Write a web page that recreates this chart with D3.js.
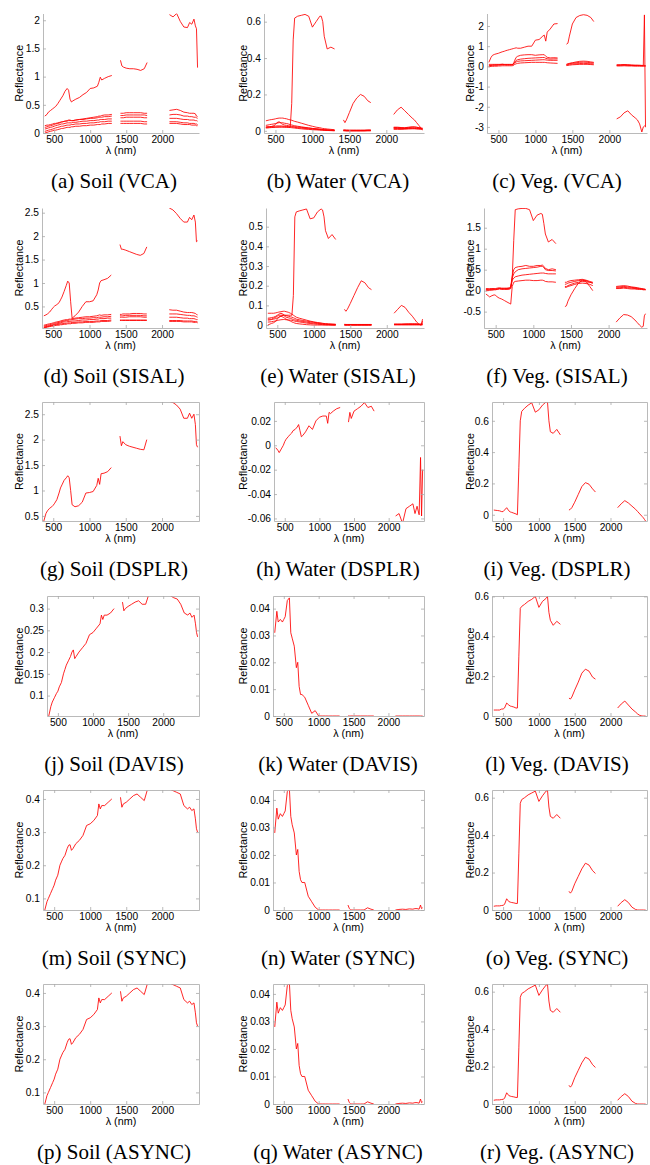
<!DOCTYPE html>
<html>
<head>
<meta charset="utf-8">
<script src="https://cdn.jsdelivr.net/npm/d3@7"></script>
<style>
body { margin: 0; background: #fff; }
svg text { font-family: "Liberation Sans", Arial, sans-serif; fill: #000; }
.cap { font-family: "Liberation Serif", "Times New Roman", serif; font-size: 21px; }
</style>
</head>
<body>
<div id="chart"></div>
<script>
var width = 650, height = 1165;

// wavelength grid (nm) for the three bands left after removing water absorption
var WL1 = [370,400,420,450,480,500,520,550,580,600,620,650,680,700,720,740,760,800,850,900,950,1000,1050,1100,1120,1140,1160,1200,1250,1300];
var WL2 = [1420,1440,1460,1500,1550,1600,1650,1700,1750,1790];
var WL3 = [2100,2150,2200,2250,2300,2350,2380,2410,2440,2460,2475,2490];
var xTicks = [500,1000,1500,2000];

var panelNames = ['Soil','Water','Veg.'];
var methods = ['VCA','SISAL','DSPLR','DAVIS','SYNC','ASYNC'];

// each curve = [band1 values, band2 values, band3 values]
var soilVCA = [
  [[0.3,0.33,0.37,0.4,0.43,0.45,0.47,0.52,0.58,0.62,0.66,0.74,0.79,0.76,0.6,0.55,0.57,0.6,0.63,0.68,0.72,0.79,0.8,0.83,0.9,0.99,0.94,0.97,1.0,1.02],
   [1.29,1.19,1.17,1.15,1.14,1.14,1.13,1.11,1.14,1.25],
   [2.1,2.06,2.12,1.98,1.88,1.87,1.96,1.93,2.02,1.9,1.85,1.16]],
  [[0.13,0.14,0.14,0.15,0.16,0.17,0.17,0.18,0.19,0.2,0.2,0.21,0.21,0.22,0.22,0.22,0.22,0.23,0.24,0.25,0.26,0.27,0.28,0.29,0.3,0.3,0.31,0.32,0.32,0.33],
   [0.35,0.35,0.35,0.36,0.36,0.36,0.36,0.36,0.35,0.35],
   [0.4,0.41,0.42,0.4,0.37,0.36,0.35,0.35,0.35,0.34,0.3,0.29]],
  [[0.1,0.11,0.12,0.13,0.14,0.15,0.16,0.17,0.18,0.19,0.2,0.21,0.22,0.23,0.23,0.22,0.22,0.23,0.24,0.24,0.25,0.26,0.26,0.27,0.28,0.28,0.28,0.29,0.29,0.3],
   [0.31,0.31,0.31,0.32,0.32,0.32,0.32,0.32,0.32,0.31],
   [0.32,0.33,0.33,0.32,0.3,0.3,0.29,0.29,0.28,0.28,0.27,0.26]],
  [[0.07,0.08,0.09,0.1,0.11,0.12,0.13,0.14,0.15,0.16,0.16,0.17,0.18,0.18,0.18,0.18,0.19,0.19,0.2,0.21,0.21,0.22,0.22,0.23,0.23,0.24,0.24,0.24,0.25,0.25],
   [0.27,0.27,0.27,0.28,0.28,0.28,0.28,0.28,0.27,0.27],
   [0.26,0.26,0.26,0.25,0.24,0.24,0.23,0.23,0.23,0.22,0.22,0.21]],
  [[0.03,0.04,0.05,0.06,0.07,0.08,0.09,0.1,0.11,0.12,0.12,0.13,0.14,0.14,0.14,0.15,0.15,0.16,0.16,0.17,0.17,0.18,0.18,0.19,0.19,0.2,0.2,0.2,0.21,0.21],
   [0.21,0.21,0.21,0.21,0.21,0.21,0.21,0.21,0.2,0.2],
   [0.2,0.2,0.2,0.19,0.18,0.18,0.17,0.17,0.17,0.16,0.16,0.15]],
  [[0.0,0.01,0.02,0.03,0.04,0.05,0.05,0.06,0.07,0.08,0.08,0.09,0.1,0.1,0.1,0.11,0.11,0.12,0.12,0.13,0.13,0.14,0.14,0.15,0.15,0.15,0.16,0.16,0.17,0.17],
   [0.17,0.17,0.17,0.17,0.17,0.17,0.17,0.17,0.16,0.16],
   [0.17,0.17,0.17,0.16,0.15,0.15,0.15,0.14,0.14,0.14,0.13,0.13]]
];

var waterVCA = [
  [[0.02,0.02,0.02,0.02,0.02,0.02,0.02,0.02,0.02,0.02,0.02,0.02,0.02,0.02,0.15,0.5,0.62,0.63,0.635,0.64,0.63,0.57,0.6,0.63,0.63,0.6,0.52,0.45,0.46,0.45],
   [0.06,0.045,0.06,0.1,0.15,0.18,0.2,0.19,0.165,0.155],
   [0.09,0.115,0.13,0.11,0.09,0.07,0.06,0.045,0.03,0.02,0.01,0.005]],
  [[0.055,0.058,0.06,0.062,0.064,0.066,0.068,0.07,0.07,0.07,0.068,0.066,0.062,0.06,0.058,0.055,0.052,0.048,0.042,0.036,0.03,0.025,0.02,0.017,0.015,0.013,0.012,0.01,0.008,0.006],
   [0.006,0.005,0.005,0.004,0.004,0.004,0.004,0.004,0.005,0.005],
   [0.015,0.014,0.013,0.013,0.014,0.015,0.015,0.014,0.013,0.012,0.012,0.01]],
  [[0.03,0.032,0.034,0.036,0.038,0.04,0.042,0.045,0.045,0.044,0.042,0.04,0.037,0.034,0.032,0.03,0.028,0.025,0.022,0.019,0.016,0.013,0.011,0.009,0.008,0.007,0.006,0.005,0.004,0.003],
   [0.003,0.003,0.002,0.002,0.002,0.002,0.002,0.002,0.003,0.003],
   [0.02,0.02,0.018,0.017,0.02,0.022,0.022,0.02,0.018,0.016,0.015,0.015]],
  [[0.02,0.021,0.022,0.024,0.028,0.035,0.045,0.05,0.04,0.035,0.032,0.03,0.028,0.026,0.025,0.024,0.023,0.021,0.019,0.017,0.015,0.013,0.011,0.009,0.008,0.007,0.006,0.005,0.003,0.002],
   [0.002,0.002,0.001,0.001,0.001,0.001,0.001,0.001,0.002,0.002],
   [0.012,0.012,0.011,0.012,0.013,0.014,0.013,0.012,0.012,0.011,0.01,0.01]],
  [[0.02,0.022,0.023,0.024,0.025,0.026,0.027,0.027,0.027,0.026,0.025,0.024,0.023,0.022,0.021,0.02,0.019,0.017,0.015,0.013,0.011,0.009,0.008,0.006,0.005,0.004,0.004,0.003,0.002,0.001],
   [0.001,0.001,0.0,0.0,0.0,0.0,0.0,0.0,0.001,0.001],
   [0.008,0.008,0.008,0.009,0.01,0.011,0.011,0.01,0.009,0.009,0.008,0.008]],
  [[0.015,0.016,0.017,0.018,0.019,0.02,0.021,0.022,0.022,0.022,0.021,0.02,0.019,0.018,0.017,0.016,0.015,0.013,0.011,0.009,0.008,0.006,0.005,0.004,0.003,0.003,0.002,0.002,0.001,0.0],
   [0,0,0,0,0,0,0,0,0,0],
   [0.018,0.018,0.017,0.016,0.018,0.02,0.02,0.019,0.017,0.015,0.014,0.012]]
];

var vegVCA = [
  [[0.2,0.45,0.55,0.6,0.63,0.65,0.68,0.72,0.75,0.78,0.8,0.83,0.86,0.88,0.9,0.92,0.9,0.9,0.95,1.0,1.0,1.3,1.33,1.5,1.55,1.25,1.7,1.85,2.1,2.12],
   [1.1,1.15,1.5,2.1,2.42,2.52,2.56,2.53,2.42,2.22],
   [-2.6,-2.5,-2.3,-2.2,-2.4,-2.55,-2.65,-2.85,-3.25,-3.0,-2.95,-3.0]],
  [[0.0,0.05,0.06,0.07,0.07,0.08,0.08,0.1,0.09,0.08,0.08,0.08,0.08,0.1,0.3,0.45,0.5,0.55,0.57,0.58,0.58,0.55,0.57,0.58,0.58,0.5,0.45,0.42,0.43,0.42],
   [0.1,0.12,0.15,0.18,0.22,0.25,0.26,0.25,0.22,0.2],
   [0.05,0.06,0.07,0.06,0.05,0.04,0.04,0.04,0.03,0.05,2.55,-3.0]],
  [[0.05,0.05,0.06,0.06,0.06,0.07,0.07,0.08,0.08,0.08,0.08,0.08,0.08,0.1,0.2,0.3,0.33,0.36,0.38,0.4,0.41,0.42,0.43,0.44,0.44,0.4,0.38,0.36,0.37,0.37],
   [0.1,0.12,0.14,0.16,0.18,0.2,0.21,0.2,0.18,0.17],
   [0.08,0.08,0.09,0.08,0.07,0.06,0.06,0.06,0.05,0.05,0.05,0.04]],
  [[0.1,0.1,0.1,0.1,0.1,0.1,0.1,0.11,0.1,0.1,0.1,0.1,0.1,0.11,0.18,0.22,0.25,0.27,0.28,0.29,0.3,0.31,0.32,0.33,0.33,0.32,0.31,0.3,0.3,0.3],
   [0.06,0.08,0.1,0.12,0.13,0.14,0.15,0.14,0.13,0.12],
   [0.06,0.06,0.07,0.06,0.05,0.05,0.05,0.04,0.04,0.04,0.04,0.03]],
  [[-0.02,0.0,0.0,0.01,0.01,0.02,0.02,0.03,0.03,0.03,0.03,0.03,0.03,0.04,0.1,0.13,0.15,0.17,0.18,0.19,0.2,0.2,0.2,0.2,0.2,0.19,0.18,0.17,0.16,0.15],
   [0.04,0.05,0.06,0.08,0.09,0.1,0.1,0.1,0.09,0.08],
   [0.02,0.02,0.03,0.02,0.02,0.01,0.01,0.01,0.01,0.0,0.0,0.0]]
];

var soilSISAL = [
  [[0.3,0.32,0.34,0.38,0.44,0.48,0.51,0.54,0.58,0.64,0.7,0.82,0.95,1.04,1.0,0.6,0.25,0.3,0.38,0.5,0.6,0.6,0.62,0.75,0.85,1.0,1.05,1.07,1.1,1.17],
   [1.82,1.72,1.72,1.7,1.67,1.64,1.61,1.59,1.63,1.77],
   [2.6,2.56,2.48,2.38,2.3,2.3,2.4,2.35,2.45,2.3,1.88,1.9]],
  [[0.1,0.11,0.12,0.13,0.14,0.15,0.16,0.17,0.18,0.19,0.2,0.21,0.22,0.22,0.23,0.23,0.24,0.25,0.26,0.27,0.28,0.28,0.29,0.3,0.31,0.32,0.31,0.32,0.32,0.33],
   [0.33,0.33,0.34,0.34,0.34,0.35,0.35,0.35,0.34,0.34],
   [0.43,0.42,0.42,0.4,0.38,0.37,0.37,0.37,0.36,0.35,0.33,0.32]],
  [[0.08,0.09,0.1,0.11,0.12,0.13,0.14,0.15,0.16,0.17,0.18,0.19,0.2,0.2,0.21,0.21,0.22,0.23,0.24,0.24,0.25,0.25,0.26,0.26,0.27,0.27,0.27,0.28,0.28,0.29],
   [0.3,0.3,0.3,0.31,0.31,0.31,0.31,0.31,0.3,0.3],
   [0.34,0.34,0.34,0.33,0.32,0.31,0.31,0.3,0.3,0.29,0.28,0.27]],
  [[0.06,0.07,0.08,0.09,0.1,0.11,0.12,0.13,0.14,0.15,0.16,0.17,0.17,0.18,0.18,0.18,0.19,0.19,0.2,0.21,0.21,0.22,0.22,0.23,0.23,0.24,0.24,0.24,0.25,0.25],
   [0.27,0.27,0.27,0.27,0.28,0.28,0.28,0.28,0.27,0.27],
   [0.27,0.27,0.27,0.26,0.25,0.25,0.24,0.24,0.24,0.23,0.22,0.22]],
  [[0.05,0.06,0.07,0.08,0.09,0.1,0.11,0.11,0.12,0.13,0.13,0.14,0.14,0.15,0.15,0.15,0.16,0.16,0.17,0.17,0.18,0.18,0.18,0.19,0.19,0.19,0.2,0.2,0.2,0.21],
   [0.21,0.21,0.21,0.21,0.21,0.21,0.21,0.21,0.21,0.21],
   [0.2,0.2,0.2,0.2,0.19,0.19,0.19,0.19,0.18,0.18,0.18,0.17]],
  [[0.04,0.05,0.06,0.07,0.08,0.08,0.09,0.1,0.1,0.11,0.11,0.12,0.12,0.13,0.13,0.13,0.14,0.14,0.15,0.15,0.16,0.16,0.16,0.17,0.17,0.17,0.18,0.18,0.18,0.19],
   [0.2,0.2,0.2,0.2,0.2,0.2,0.2,0.2,0.2,0.2],
   [0.18,0.18,0.18,0.18,0.17,0.17,0.17,0.17,0.16,0.16,0.16,0.15]]
];

var waterSISAL = [
  [[0.03,0.03,0.03,0.035,0.04,0.045,0.05,0.05,0.05,0.05,0.05,0.05,0.05,0.05,0.15,0.55,0.575,0.58,0.585,0.59,0.54,0.545,0.575,0.59,0.585,0.55,0.48,0.44,0.46,0.435],
   [0.08,0.07,0.08,0.11,0.15,0.19,0.225,0.215,0.19,0.18],
   [0.06,0.08,0.1,0.09,0.065,0.045,0.03,0.015,0.005,0.0,0.0,0.02]],
  [[0.06,0.06,0.06,0.06,0.062,0.064,0.066,0.068,0.07,0.07,0.068,0.065,0.06,0.055,0.05,0.045,0.04,0.035,0.03,0.025,0.02,0.016,0.013,0.01,0.009,0.008,0.007,0.006,0.005,0.004],
   [0.004,0.003,0.003,0.003,0.003,0.003,0.003,0.003,0.003,0.003],
   [0.005,0.005,0.005,0.005,0.006,0.006,0.006,0.006,0.005,0.005,0.005,0.03]],
  [[0.035,0.036,0.038,0.04,0.045,0.05,0.055,0.06,0.055,0.05,0.048,0.045,0.042,0.04,0.037,0.034,0.03,0.027,0.023,0.02,0.017,0.014,0.011,0.009,0.008,0.007,0.006,0.005,0.004,0.003],
   [0.002,0.002,0.002,0.002,0.002,0.002,0.002,0.002,0.002,0.002],
   [0.004,0.004,0.004,0.005,0.005,0.005,0.005,0.005,0.004,0.004,0.004,0.01]],
  [[0.025,0.026,0.028,0.03,0.033,0.036,0.04,0.045,0.05,0.045,0.04,0.037,0.034,0.031,0.028,0.026,0.024,0.021,0.018,0.015,0.012,0.01,0.008,0.006,0.005,0.004,0.004,0.003,0.002,0.001],
   [0.001,0.001,0.001,0.001,0.001,0.001,0.001,0.001,0.001,0.001],
   [0.003,0.003,0.003,0.004,0.004,0.004,0.004,0.004,0.003,0.003,0.003,0.003]],
  [[0.015,0.016,0.017,0.019,0.021,0.023,0.025,0.027,0.028,0.028,0.027,0.026,0.025,0.024,0.022,0.02,0.018,0.016,0.013,0.01,0.008,0.006,0.004,0.003,0.002,0.002,0.001,0.001,0.0,0.0],
   [0,0,0,0,0,0,0,0,0,0],
   [0.002,0.002,0.002,0.002,0.002,0.002,0.002,0.002,0.002,0.002,0.002,0.002]],
  [[0.0,0.005,0.008,0.012,0.02,0.03,0.04,0.045,0.04,0.035,0.03,0.025,0.02,0.016,0.013,0.01,0.008,0.006,0.004,0.002,0.001,0.0,0.0,0.0,0.0,0.0,0.0,0.0,0.0,0.0],
   [0,0,0,0,0,0,0,0,0,0],
   [0.001,0.001,0.001,0.001,0.001,0.001,0.001,0.001,0.001,0.001,0.001,0.001]]
];

var vegSISAL = [
  [[0.02,0.02,0.02,0.03,0.03,0.03,0.04,0.05,0.04,0.04,0.04,0.04,0.04,0.05,0.3,1.2,1.93,1.95,1.96,1.96,1.93,1.67,1.8,1.84,1.82,1.6,1.35,1.16,1.22,1.12],
   [-0.38,-0.36,-0.25,-0.1,0.05,0.18,0.25,0.22,0.1,0.0],
   [-0.75,-0.65,-0.57,-0.58,-0.62,-0.7,-0.76,-0.82,-0.87,-0.85,-0.6,-0.55]],
  [[-0.08,-0.12,-0.15,-0.12,-0.1,-0.11,-0.15,-0.18,-0.2,-0.22,-0.24,-0.27,-0.3,-0.32,0.1,0.2,0.22,0.23,0.24,0.25,0.25,0.24,0.24,0.25,0.25,0.24,0.22,0.21,0.21,0.2],
   [0.08,0.08,0.1,0.12,0.15,0.17,0.18,0.17,0.15,0.12],
   [0.05,0.05,0.06,0.05,0.04,0.04,0.03,0.03,0.03,0.02,0.02,0.02]],
  [[0.05,0.05,0.05,0.05,0.05,0.05,0.06,0.07,0.06,0.06,0.06,0.06,0.07,0.1,0.35,0.5,0.55,0.57,0.58,0.6,0.58,0.58,0.6,0.6,0.61,0.58,0.53,0.5,0.52,0.5],
   [0.2,0.2,0.22,0.24,0.25,0.26,0.27,0.25,0.22,0.2],
   [0.1,0.11,0.12,0.11,0.09,0.08,0.07,0.06,0.05,0.04,0.04,0.03]],
  [[0.0,0.0,0.01,0.01,0.02,0.02,0.03,0.04,0.03,0.03,0.03,0.03,0.04,0.06,0.3,0.4,0.45,0.5,0.52,0.53,0.54,0.55,0.56,0.58,0.58,0.55,0.5,0.48,0.48,0.47],
   [0.15,0.16,0.18,0.2,0.22,0.24,0.25,0.24,0.2,0.18],
   [0.08,0.09,0.1,0.09,0.08,0.07,0.06,0.05,0.04,0.04,0.03,0.02]],
  [[0.03,0.03,0.03,0.04,0.04,0.04,0.04,0.05,0.05,0.05,0.05,0.05,0.05,0.08,0.25,0.3,0.33,0.35,0.37,0.38,0.39,0.4,0.41,0.42,0.42,0.42,0.41,0.4,0.4,0.4],
   [0.1,0.1,0.12,0.15,0.18,0.2,0.22,0.21,0.2,0.18],
   [0.06,0.07,0.08,0.07,0.06,0.05,0.05,0.04,0.04,0.03,0.03,0.03]]
];

var soilDSPLR = [
  [[0.4,0.55,0.6,0.65,0.68,0.71,0.75,0.82,0.95,1.05,1.11,1.2,1.25,1.29,1.25,1.0,0.72,0.68,0.7,0.77,0.95,0.96,0.98,1.1,1.24,1.12,1.33,1.34,1.37,1.45],
   [2.07,1.88,1.96,1.9,1.87,1.85,1.83,1.81,1.8,2.0],
   [2.75,2.73,2.68,2.6,2.42,2.42,2.52,2.42,2.5,2.3,1.9,1.85]]
];
var waterDSPLR = [
  [[-0.002,-0.004,-0.006,-0.003,0.0,0.003,0.005,0.007,0.009,0.01,0.012,0.013,0.015,0.017,0.012,0.007,0.008,0.011,0.016,0.013,0.02,0.023,0.024,0.024,0.018,0.027,0.026,0.028,0.03,0.031],
   [0.019,0.027,0.022,0.028,0.03,0.032,0.035,0.031,0.032,0.028],
   [-0.058,-0.056,-0.064,-0.052,-0.05,-0.048,-0.056,-0.05,-0.057,-0.01,-0.058,-0.02]]
];
var vegDSPLR = [
  [[0.03,0.028,0.027,0.025,0.02,0.02,0.03,0.045,0.025,0.018,0.015,0.01,0.005,0.0,0.3,0.6,0.66,0.68,0.7,0.715,0.655,0.67,0.7,0.72,0.72,0.6,0.53,0.52,0.545,0.51],
   [0.03,0.035,0.045,0.08,0.13,0.18,0.205,0.195,0.165,0.145],
   [0.045,0.07,0.09,0.075,0.055,0.035,0.02,0.005,-0.01,-0.02,-0.03,-0.04]]
];

var soilDAVIS = [
  [[0.053,0.075,0.085,0.095,0.105,0.11,0.12,0.13,0.15,0.16,0.17,0.18,0.19,0.2,0.205,0.185,0.19,0.2,0.21,0.22,0.24,0.245,0.255,0.265,0.285,0.275,0.285,0.285,0.29,0.3],
   [0.315,0.295,0.3,0.305,0.31,0.315,0.318,0.31,0.31,0.33],
   [0.33,0.325,0.322,0.31,0.29,0.285,0.29,0.28,0.285,0.265,0.245,0.235]]
];
var waterDAVIS = [
  [[0.031,0.039,0.035,0.036,0.035,0.036,0.037,0.043,0.044,0.031,0.029,0.026,0.018,0.02,0.011,0.008,0.008,0.007,0.004,0.001,0.002,0.0,0,0,0,0,0,0,0,0],
   [0,0,0,0,0,0,0,0,0,0],
   [0,0,0,0,0,0,0,0,0,0,0,0]]
];
var vegDAVIS = [
  [[0.03,0.03,0.03,0.03,0.035,0.035,0.04,0.065,0.055,0.05,0.048,0.045,0.04,0.04,0.3,0.54,0.55,0.56,0.575,0.585,0.6,0.545,0.575,0.59,0.6,0.52,0.48,0.455,0.475,0.46],
   [0.09,0.085,0.095,0.13,0.17,0.215,0.235,0.225,0.195,0.185],
   [0.04,0.06,0.075,0.055,0.035,0.02,0.01,0.003,0.0,0.0,0.0,0.0]]
];

var soilSYNC = [
  [[0.065,0.09,0.1,0.115,0.13,0.14,0.155,0.17,0.2,0.21,0.22,0.23,0.25,0.26,0.262,0.245,0.25,0.265,0.275,0.29,0.32,0.325,0.335,0.35,0.385,0.37,0.38,0.38,0.39,0.4],
   [0.405,0.375,0.385,0.39,0.4,0.41,0.415,0.405,0.395,0.425],
   [0.43,0.425,0.42,0.415,0.38,0.37,0.375,0.365,0.37,0.34,0.31,0.3]]
];
var waterSYNC = [
  [[0.028,0.037,0.033,0.035,0.034,0.035,0.036,0.043,0.044,0.034,0.031,0.028,0.02,0.022,0.014,0.011,0.01,0.01,0.005,0.003,0.001,0.0,0,0,0,0,0,0,0,0],
   [0.0018,0.0005,0,0,0,0,0,0.0008,0.0003,0],
   [0,0.0002,0.0003,0.0002,0.0004,0.0003,0.0005,0.0005,0.0003,0.0018,0.0005,0.0008]]
];
var vegSYNC = [
  [[0.02,0.022,0.022,0.022,0.024,0.025,0.03,0.06,0.045,0.042,0.04,0.038,0.035,0.035,0.3,0.57,0.59,0.6,0.615,0.625,0.635,0.58,0.61,0.635,0.64,0.55,0.5,0.49,0.51,0.49],
   [0.1,0.09,0.1,0.14,0.18,0.22,0.25,0.24,0.21,0.195],
   [0.02,0.04,0.055,0.04,0.015,0.003,0,0,0,0,0,0]]
];
// ASYNC results are visually identical to SYNC
var soilASYNC = soilSYNC, waterASYNC = waterSYNC, vegASYNC = vegSYNC;

var spectra = [
  soilVCA, waterVCA, vegVCA,
  soilSISAL, waterSISAL, vegSISAL,
  soilDSPLR, waterDSPLR, vegDSPLR,
  soilDAVIS, waterDAVIS, vegDAVIS,
  soilSYNC, waterSYNC, vegSYNC,
  soilASYNC, waterASYNC, vegASYNC
];

var yDomains = [
  [0, 2.12], [-0.012, 0.645], [-3.3, 2.62],
  [0.04, 2.6], [-0.015, 0.595], [-0.89, 1.97],
  [0.4, 2.74], [-0.0621, 0.0355], [-0.04, 0.72],
  [0.053, 0.329], [0, 0.0447], [0, 0.602],
  [0.065, 0.427], [0, 0.0436], [0, 0.641],
  [0.065, 0.427], [0, 0.0436], [0, 0.641]
];
var yTicks = [
  [0,0.5,1,1.5,2], [0,0.2,0.4,0.6], [-3,-2,-1,0,1,2],
  [0.5,1,1.5,2,2.5], [0,0.1,0.2,0.3,0.4,0.5], [-0.5,0,0.5,1,1.5],
  [0.5,1,1.5,2,2.5], [-0.06,-0.04,-0.02,0,0.02], [0,0.2,0.4,0.6],
  [0.1,0.15,0.2,0.25,0.3], [0,0.01,0.02,0.03,0.04], [0,0.2,0.4,0.6],
  [0.1,0.2,0.3,0.4], [0,0.01,0.02,0.03,0.04], [0,0.2,0.4,0.6],
  [0.1,0.2,0.3,0.4], [0,0.01,0.02,0.03,0.04], [0,0.2,0.4,0.6]
];

// layout
var xDomain = [345, 2510];
var rowTop = [13.5, 208, 402, 596, 790, 984];
var rowBottom = [133, 328, 521, 716, 910, 1104];
var axisLeft = [[43,264,487],[42,266,484],[42,274,492],[47,273,492],[43,273,492],[43,273,492]];
var axisRight = [199, 424, 647];
var ylabelX = [19, 243, 470];
var captionX = [114, 338, 557];
var bands = [WL1, WL2, WL3];
var axisColor = '#a8a8a8';

var svg = d3.select('#chart').append('svg')
  .attr('width', width)
  .attr('height', height);
var defs = svg.append('defs');

function styleAxis(sel) {
  sel.attr('font-family', null).attr('font-size', null);
  sel.select('.domain').attr('stroke', axisColor).attr('stroke-width', 0.8);
  sel.selectAll('.tick line').attr('stroke', axisColor).attr('stroke-width', 0.8);
  sel.selectAll('.tick text').style('font-size', '10.2px');
}

spectra.forEach(function(curves, k) {
  var row = Math.floor(k / 3), col = k % 3;
  var x0 = axisLeft[row][col], x1 = axisRight[col];
  var y0 = rowTop[row], y1 = rowBottom[row];
  var boxed = row >= 2;

  var x = d3.scaleLinear().domain(xDomain).range([x0, x1]);
  var y = d3.scaleLinear().domain(yDomains[k]).range([y1, y0]);
  var line = d3.line()
    .x(function(d) { return x(d[0]); })
    .y(function(d) { return y(d[1]); });

  defs.append('clipPath').attr('id', 'clip' + k)
    .append('rect')
    .attr('x', x0).attr('y', y0)
    .attr('width', x1 - x0).attr('height', y1 - y0);

  var g = svg.append('g');
  var plot = g.append('g').attr('clip-path', 'url(#clip' + k + ')');

  curves.forEach(function(curve) {
    curve.forEach(function(vals, s) {
      plot.append('path')
        .attr('d', line(d3.zip(bands[s], vals)))
        .attr('fill', 'none')
        .attr('stroke', '#ff0000')
        .attr('stroke-width', 0.85)
        .attr('stroke-linejoin', 'round');
    });
  });

  g.append('g')
    .attr('transform', 'translate(0,' + y1 + ')')
    .call(d3.axisBottom(x).tickValues(xTicks).tickSizeInner(-3).tickSizeOuter(0).tickPadding(3).tickFormat(String))
    .call(styleAxis);

  g.append('g')
    .attr('transform', 'translate(' + x0 + ',0)')
    .call(d3.axisLeft(y).tickValues(yTicks[k]).tickSizeInner(-3).tickSizeOuter(0).tickPadding(3).tickFormat(String))
    .call(styleAxis);

  if (boxed) {
    g.append('g')
      .attr('transform', 'translate(0,' + y0 + ')')
      .call(d3.axisTop(x).tickValues(xTicks).tickSizeInner(-3).tickSizeOuter(0).tickFormat(''))
      .call(styleAxis);
    g.append('g')
      .attr('transform', 'translate(' + x1 + ',0)')
      .call(d3.axisRight(y).tickValues(yTicks[k]).tickSizeInner(-3).tickSizeOuter(0).tickFormat(''))
      .call(styleAxis);
  }

  g.append('text')
    .attr('x', (x0 + x1) / 2)
    .attr('y', y1 + 21)
    .attr('text-anchor', 'middle')
    .style('font-size', '10.8px')
    .text('\u03bb (nm)');

  g.append('text')
    .attr('transform', 'translate(' + ylabelX[col] + ',' + (y0 + y1) / 2 + ') rotate(-90)')
    .attr('text-anchor', 'middle')
    .attr('dy', '0.35em')
    .style('font-size', '10.8px')
    .text('Reflectance');

  g.append('text')
    .attr('class', 'cap')
    .attr('x', captionX[col])
    .attr('y', y1 + 55)
    .attr('text-anchor', 'middle')
    .text('(' + 'abcdefghijklmnopqr'[k] + ') ' + panelNames[col] + ' (' + methods[row] + ')');
});
</script>
</body>
</html>
